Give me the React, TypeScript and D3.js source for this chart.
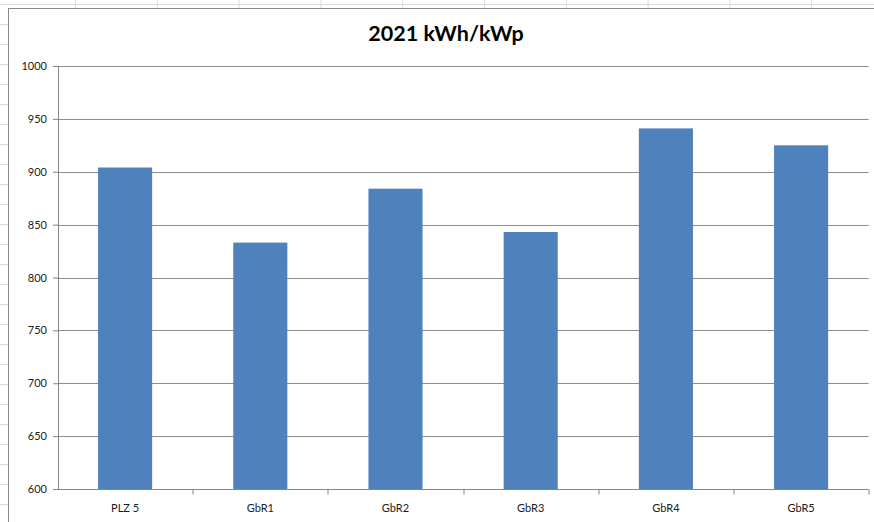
import { useEffect, useRef } from 'react'
import * as d3 from 'd3'

const categories = ['PLZ 5', 'GbR1', 'GbR2', 'GbR3', 'GbR4', 'GbR5']
const values = [904, 833, 884, 843, 941, 925]
const yTicks = [600, 650, 700, 750, 800, 850, 900, 950, 1000]

const W = 874
const H = 522
const FONT = 'Lato, "Open Sans", sans-serif'

export default function App() {
  const svgRef = useRef<SVGSVGElement>(null)

  useEffect(() => {
    if (!svgRef.current) return
    const svg = d3.select(svgRef.current)
    svg.selectAll('*').remove()

    // faint spreadsheet cell lines behind the chart
    const sheet = svg.append('g').attr('stroke', '#dadada').attr('stroke-width', 1)
    sheet.append('line').attr('x1', 0).attr('x2', W).attr('y1', 4.5).attr('y2', 4.5)
    d3.range(75.5, W, 81.8).forEach((x) => {
      sheet.append('line').attr('x1', x).attr('x2', x).attr('y1', 0).attr('y2', 9)
    })
    d3.range(24.5, H, 20).forEach((y) => {
      sheet.append('line').attr('x1', 0).attr('x2', 8).attr('y1', y).attr('y2', y)
    })

    // chart area
    svg.append('rect')
      .attr('x', 8.5).attr('y', 8.5).attr('width', W).attr('height', H)
      .attr('fill', '#fff').attr('stroke', '#888').attr('stroke-width', 1)

    const margin = { top: 66, right: 5.3, bottom: 33, left: 57.5 }
    const w = W - margin.left - margin.right
    const h = H - margin.top - margin.bottom

    const x = d3.scaleBand().domain(categories).range([0, w]).paddingInner(0.6).paddingOuter(0.3)
    const xCat = d3.scaleBand().domain(categories).range([0, w]).padding(0)
    const y = d3.scaleLinear().domain([600, 1000]).range([h, 0])

    const g = svg.append('g').attr('transform', `translate(${margin.left},${margin.top})`)

    // Title
    svg.append('text').attr('x', 446).attr('y', 41)
      .attr('fill', '#000').attr('font-size', '21.5px').attr('font-weight', '700')
      .attr('font-family', FONT).attr('text-anchor', 'middle').text('2021 kWh/kWp')

    // gridlines
    g.append('g').selectAll('line').data(yTicks.slice(1)).join('line')
      .attr('x1', 0).attr('x2', w)
      .attr('y1', (d) => Math.round(y(d)) + 0.5).attr('y2', (d) => Math.round(y(d)) + 0.5)
      .attr('stroke', '#8c8c8c').attr('stroke-width', 1)

    // bars
    g.append('g').selectAll('rect').data(values).join('rect')
      .attr('x', (_, i) => x(categories[i])!)
      .attr('width', x.bandwidth())
      .attr('y', (d) => y(d))
      .attr('height', (d) => h - y(d))
      .attr('fill', '#4f81bd')

    // y axis
    const yAxis = g.append('g').attr('transform', 'translate(0.5,0)')
      .call(d3.axisLeft(y).tickValues(yTicks).tickSize(5).tickPadding(6).tickFormat((d) => `${d}`))
    yAxis.select('.domain').attr('stroke', '#868686')
    yAxis.selectAll('.tick line').attr('stroke', '#868686')
    yAxis.selectAll('.tick text').attr('fill', '#1a1a1a').attr('font-size', '11px').attr('font-family', FONT)

    // x axis
    const xAxis = g.append('g').attr('transform', `translate(0,${h + 0.5})`)
    xAxis.append('line').attr('x1', 0).attr('x2', w).attr('stroke', '#868686')
    xAxis.selectAll('line.tk').data(categories).join('line').attr('class', 'tk')
      .attr('x1', (d) => Math.round(xCat(d)! + xCat.bandwidth()) + 0.5)
      .attr('x2', (d) => Math.round(xCat(d)! + xCat.bandwidth()) + 0.5)
      .attr('y1', 0).attr('y2', 5).attr('stroke', '#868686')
    xAxis.selectAll('text').data(categories).join('text')
      .attr('x', (d) => xCat(d)! + xCat.bandwidth() / 2)
      .attr('y', 22)
      .attr('text-anchor', 'middle').attr('fill', '#1a1a1a')
      .attr('font-size', '11px').attr('font-family', FONT)
      .text((d) => d)
  }, [])

  return (
    <svg ref={svgRef} width={W} height={H}
      style={{ position: 'fixed', left: 0, top: 0, background: '#fff', display: 'block' }} />
  )
}
